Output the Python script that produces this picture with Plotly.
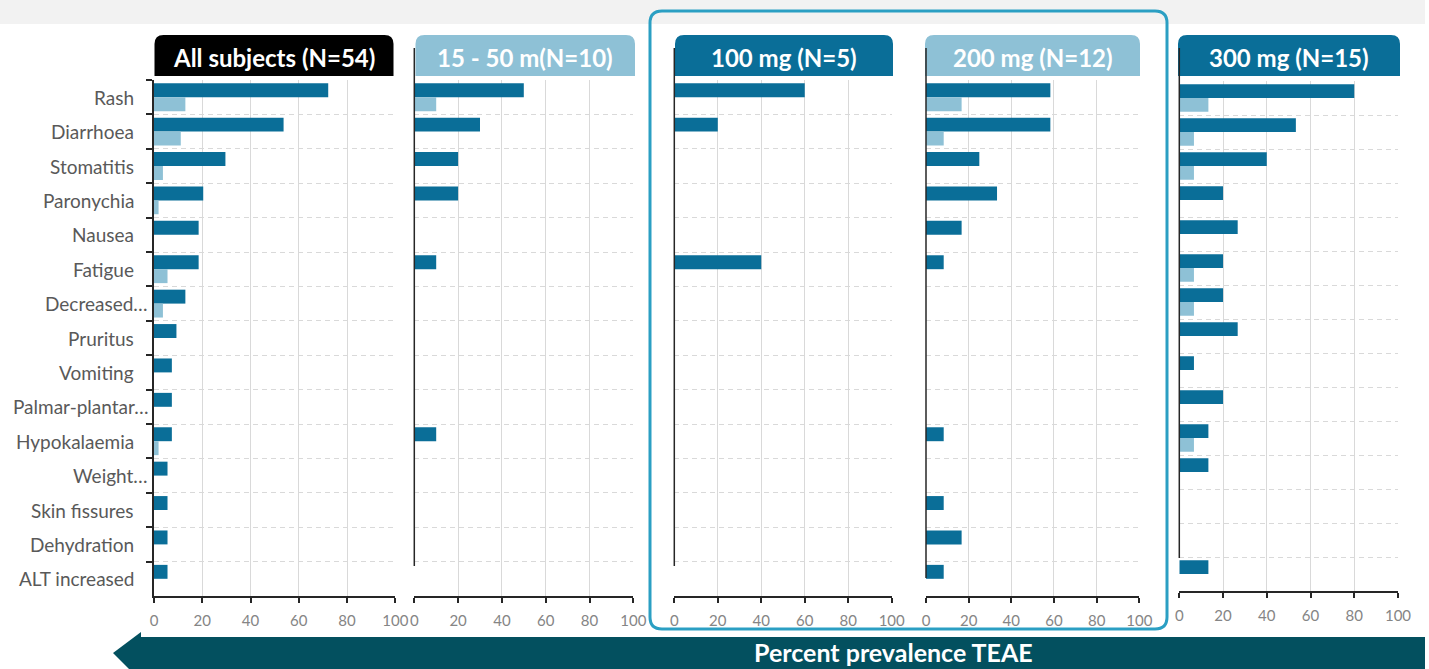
import plotly.graph_objects as go

W, H = 1429, 669

# ---- data -------------------------------------------------------------
categories = [
    "Rash", "Diarrhoea", "Stomatitis", "Paronychia", "Nausea", "Fatigue",
    "Decreased…", "Pruritus", "Vomiting", "Palmar-plantar…", "Hypokalaemia",
    "Weight…", "Skin fissures", "Dehydration", "ALT increased",
]

panel_titles = [
    "All subjects (N=54)", "15 - 50 m(N=10)", "100 mg (N=5)",
    "200 mg (N=12)", "300 mg (N=15)",
]

# all-grade TEAE prevalence (%)
all_subjects_any = [72.2, 53.7, 29.6, 20.4, 18.5, 18.5, 13.0, 9.3, 7.4, 7.4, 7.4, 5.6, 5.6, 5.6, 5.6]
dose_15_50_any = [50, 30, 20, 20, 0, 10, 0, 0, 0, 0, 10, 0, 0, 0, 0]
dose_100_any = [60, 20, 0, 0, 0, 40, 0, 0, 0, 0, 0, 0, 0, 0, 0]
dose_200_any = [58.3, 58.3, 25.0, 33.3, 16.7, 8.3, 0, 0, 0, 0, 8.3, 0, 8.3, 16.7, 8.3]
dose_300_any = [80.0, 53.3, 40.0, 20.0, 26.7, 20.0, 20.0, 26.7, 6.7, 20.0, 13.3, 13.3, 0, 0, 13.3]

# grade >= 3 TEAE prevalence (%)
all_subjects_g3 = [13.0, 11.1, 3.7, 1.9, 0, 5.6, 3.7, 0, 0, 0, 1.9, 0, 0, 0, 0]
dose_15_50_g3 = [10, 0, 0, 0, 0, 0, 0, 0, 0, 0, 0, 0, 0, 0, 0]
dose_100_g3 = [0, 0, 0, 0, 0, 0, 0, 0, 0, 0, 0, 0, 0, 0, 0]
dose_200_g3 = [16.7, 8.3, 0, 0, 0, 0, 0, 0, 0, 0, 0, 0, 0, 0, 0]
dose_300_g3 = [13.3, 6.7, 6.7, 0, 0, 6.7, 6.7, 0, 0, 0, 6.7, 0, 0, 0, 0]

x_ticks = [0, 20, 40, 60, 80, 100]
footer_text = "Percent prevalence TEAE"

any_series = [all_subjects_any, dose_15_50_any, dose_100_any, dose_200_any, dose_300_any]
g3_series = [all_subjects_g3, dose_15_50_g3, dose_100_g3, dose_200_g3, dose_300_g3]

# ---- styling ----------------------------------------------------------
DARK = "#0A6E98"
LIGHT = "#8EC1D6"
BLACK = "#000000"
GRID = "#D9D9D9"
AXIS = "#262626"
FONT = "Lato, 'Open Sans', sans-serif"

header_fills = [BLACK, LIGHT, DARK, LIGHT, DARK]

# panel geometry in pixels: plot x0, x1, y top, y bottom, left-line end
panel_geom = [
    (154.0, 395.3, 80, 596, None),
    (414.3, 633.3, 80, 596, 566),
    (674.3, 891.7, 80, 596, 566),
    (926.0, 1139.3, 80, 596, 578),
    (1179.3, 1398.0, 81, 591, 558),
]
header_geom = [
    (154.5, 393.5), (415.5, 635.0), (675.0, 893.0), (925.0, 1140.0), (1178.0, 1400.0),
]


def px(x):
    return x / W


def py(y):
    return 1 - y / H


fig = go.Figure()
layout = {}
shapes = []
annotations = []

# light background band at the top
shapes.append(dict(type="rect", xref="paper", yref="paper", layer="below",
                   x0=0, x1=px(1425), y0=py(24), y1=1,
                   fillcolor="#F2F2F2", line_width=0))

for i, (title, dark_vals, light_vals) in enumerate(zip(panel_titles, any_series, g3_series)):
    sfx = "" if i == 0 else str(i + 1)
    x0, x1, yt, yb, line_end = panel_geom[i]

    fig.add_trace(go.Bar(y=categories, x=dark_vals, orientation="h", name="Any grade",
                         marker=dict(color=DARK, line_width=0),
                         xaxis="x" + sfx, yaxis="y" + sfx, showlegend=False,
                         hoverinfo="skip"))
    fig.add_trace(go.Bar(y=categories, x=light_vals, orientation="h", name="Grade ≥3",
                         marker=dict(color=LIGHT, line_width=0),
                         xaxis="x" + sfx, yaxis="y" + sfx, showlegend=False,
                         hoverinfo="skip"))

    layout["xaxis" + sfx] = dict(
        domain=[px(x0), px(x1)], anchor="y" + sfx, range=[0, 100],
        tickmode="array", tickvals=x_ticks, ticktext=[str(t) for t in x_ticks],
        showgrid=True, gridcolor=GRID, gridwidth=1, zeroline=False,
        showline=True, linecolor=AXIS, linewidth=1.5,
        ticks="outside", ticklen=5, tickwidth=1.5, tickcolor=AXIS,
        tickfont=dict(family=FONT, size=15, color="#858585"),
        ticklabelstandoff=5, automargin=False, fixedrange=True,
    )
    layout["yaxis" + sfx] = dict(
        domain=[py(yb), py(yt)], anchor="x" + sfx, type="category",
        categoryorder="array", categoryarray=categories,
        range=[len(categories) - 0.5, -0.5], tickson="boundaries",
        showgrid=True, gridcolor=GRID, gridwidth=1, griddash="5px,4px",
        showticklabels=False, zeroline=False,
        showline=(i == 0), linecolor=AXIS, linewidth=1.5,
        ticks="outside" if i == 0 else "", ticklen=6, tickwidth=1.5, tickcolor=AXIS,
        automargin=False, fixedrange=True,
    )

    # panel header with rounded top corners
    hx0, hx1 = header_geom[i]
    hy0, hy1, r = 35, 76, 9
    path = (f"M {px(hx0)},{py(hy1)} L {px(hx0)},{py(hy0 + r)} "
            f"Q {px(hx0)},{py(hy0)} {px(hx0 + r)},{py(hy0)} "
            f"L {px(hx1 - r)},{py(hy0)} Q {px(hx1)},{py(hy0)} {px(hx1)},{py(hy0 + r)} "
            f"L {px(hx1)},{py(hy1)} Z")
    shapes.append(dict(type="path", xref="paper", yref="paper", path=path,
                       fillcolor=header_fills[i], line_width=0, layer="above"))
    annotations.append(dict(xref="paper", yref="paper", x=px((hx0 + hx1) / 2), y=py(57),
                            text=f"<b>{title}</b>", showarrow=False,
                            xanchor="center", yanchor="middle",
                            font=dict(family=FONT, size=24, color="white")))

    # left category axis line for the dose panels
    if line_end is not None:
        shapes.append(dict(type="line", xref="paper", yref="paper", layer="above",
                           x0=px(x0), x1=px(x0), y0=py(48), y1=py(line_end),
                           line=dict(color=AXIS, width=1.5)))

# category labels beside the first panel
for cat in categories:
    right = 150 if cat.endswith("…") else 136
    annotations.append(dict(xref="paper", yref="y", x=px(right), y=cat, text=cat,
                            showarrow=False, xanchor="right", yanchor="middle",
                            font=dict(family=FONT, size=19, color="#595959")))

# highlight frame around the 100 mg and 200 mg panels
bx0, bx1, by0, by1, br = 650, 1167, 11, 629, 12
frame = (f"M {px(bx0 + br)},{py(by0)} L {px(bx1 - br)},{py(by0)} "
         f"Q {px(bx1)},{py(by0)} {px(bx1)},{py(by0 + br)} "
         f"L {px(bx1)},{py(by1 - br)} Q {px(bx1)},{py(by1)} {px(bx1 - br)},{py(by1)} "
         f"L {px(bx0 + br)},{py(by1)} Q {px(bx0)},{py(by1)} {px(bx0)},{py(by1 - br)} "
         f"L {px(bx0)},{py(by0 + br)} Q {px(bx0)},{py(by0)} {px(bx0 + br)},{py(by0)} Z")
shapes.append(dict(type="path", xref="paper", yref="paper", path=frame,
                   line=dict(color="#2B9FC3", width=3), fillcolor="rgba(0,0,0,0)",
                   layer="above"))

# left-pointing arrow along the bottom (clipped at the lower page edge)
arrow = (f"M {px(1425)},{py(637)} L {px(141)},{py(637)} L {px(141)},{py(632)} "
         f"L {px(113)},{py(653)} L {px(129)},{py(669)} "
         f"L {px(1425)},{py(669)} Z")
shapes.append(dict(type="path", xref="paper", yref="paper", path=arrow,
                   fillcolor="#03505F", line_width=0, layer="above"))
annotations.append(dict(xref="paper", yref="paper", x=px(893), y=py(652),
                        text=f"<b>{footer_text}</b>", showarrow=False,
                        xanchor="center", yanchor="middle",
                        font=dict(family=FONT, size=25, color="white")))

fig.update_layout(
    template="none",
    width=W, height=H, autosize=False,
    margin=dict(l=0, r=0, t=0, b=0, pad=0),
    paper_bgcolor="white", plot_bgcolor="rgba(0,0,0,0)",
    barmode="group", bargap=0.19, bargroupgap=0.0,
    font=dict(family=FONT), showlegend=False,
    shapes=shapes, annotations=annotations, **layout,
)

fig.write_html("out.html", config={"displayModeBar": False})
